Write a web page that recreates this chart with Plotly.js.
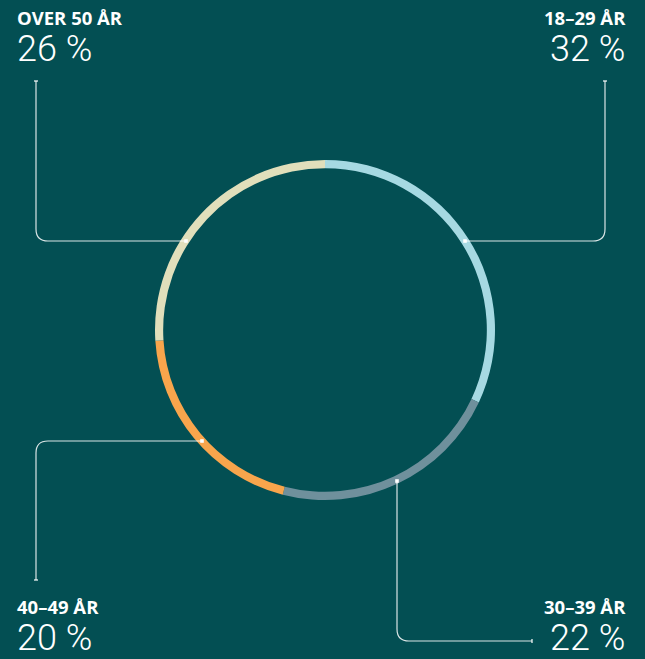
<!DOCTYPE html>
<html>
<head>
<meta charset="utf-8">
<script src="https://cdn.plot.ly/plotly-3.0.1.min.js"></script>
<style>
html,body{margin:0;padding:0;background:#034f53;}
#chart{width:645px;height:659px;}
</style>
</head>
<body>
<div id="chart"></div>
<script>
const categories = ["18–29 ÅR", "30–39 ÅR", "40–49 ÅR", "OVER 50 ÅR"];
const shares = [32, 22, 20, 26];
const valueLabels = ["32 %", "22 %", "20 %", "26 %"];
const colors = ["#a6d9e2", "#6f909c", "#f8a54c", "#e1dfbb"];

const W = 645, H = 659;
const px = x => x / W;
const py = y => 1 - y / H;

const cx = 325, cy = 330, R = 170;

const trace = {
  type: "pie",
  values: shares,
  labels: categories,
  sort: false,
  direction: "clockwise",
  rotation: 0,
  hole: 0.952,
  textinfo: "none",
  hoverinfo: "label+percent",
  marker: {colors: colors, line: {width: 0}},
  domain: {x: [px(cx - R), px(cx + R)], y: [py(cy + R), py(cy - R)]},
  showlegend: false
};

function pathStr(pts) {
  return pts.map(p => {
    if (p[0] === "Q") return `Q${px(p[1])},${py(p[2])} ${px(p[3])},${py(p[4])}`;
    return `${p[0]}${px(p[1])},${py(p[2])}`;
  }).join(" ");
}
const lineStyle = {color: "rgba(255,255,255,0.85)", width: 1.2};
const rr = 12;
const leaders = [
  [["M", 465, 241], ["L", 605 - rr, 241], ["Q", 605, 241, 605, 241 - rr], ["L", 605, 81]],
  [["M", 186, 241], ["L", 36 + rr, 241], ["Q", 36, 241, 36, 241 - rr], ["L", 36, 81]],
  [["M", 202, 441], ["L", 36 + rr, 441], ["Q", 36, 441, 36, 441 + rr], ["L", 36, 580]],
  [["M", 397, 481], ["L", 397, 641 - rr], ["Q", 397, 641, 397 + rr, 641], ["L", 532, 641]]
];
const shapes = leaders.map(l => ({
  type: "path", xref: "paper", yref: "paper", path: pathStr(l), line: lineStyle
}));
const ticks = [
  [603, 81, 607, 81], [34, 81, 38, 81], [34, 580, 38, 580], [532, 639, 532, 643]
];
ticks.forEach(t => shapes.push({type: "line", xref: "paper", yref: "paper",
  x0: px(t[0]), y0: py(t[1]), x1: px(t[2]), y1: py(t[3]), line: {color: "#ffffff", width: 1.2}}));
const dots = [[465, 241], [186, 241], [202, 441], [397, 481]];
dots.forEach(d => shapes.push({type: "rect", xref: "paper", yref: "paper",
  x0: px(d[0] - 1.8), x1: px(d[0] + 1.8), y0: py(d[1] + 1.8), y1: py(d[1] - 1.8),
  fillcolor: "#ffffff", line: {width: 0}}));

// label positions: [x, y, xanchor, yanchor]
const labelPos = [
  [628, 3, "right", "top"],
  [628, 661, "right", "bottom"],
  [15, 661, "left", "bottom"],
  [15, 3, "left", "top"]
];
const annotations = categories.map((c, i) => {
  const p = labelPos[i];
  return {
    xref: "paper", yref: "paper", x: px(p[0]), y: py(p[1]),
    xanchor: p[2], yanchor: p[3], align: p[2], showarrow: false,
    text: `<span style="font-family:'Open Sans','Noto Sans',sans-serif;font-size:18.5px;font-weight:700">${c}</span><br>` +
          `<span style="font-family:Roboto,Inter,sans-serif;font-size:36px;font-weight:300">${valueLabels[i]}</span>`,
    font: {family: "Open Sans, sans-serif", size: 28, color: "#ffffff"}
  };
});

const layout = {
  width: W, height: H,
  margin: {l: 0, r: 0, t: 0, b: 0},
  paper_bgcolor: "#034f53",
  plot_bgcolor: "#034f53",
  shapes: shapes,
  annotations: annotations
};
Plotly.newPlot("chart", [trace], layout, {displayModeBar: false});
</script>
</body>
</html>
